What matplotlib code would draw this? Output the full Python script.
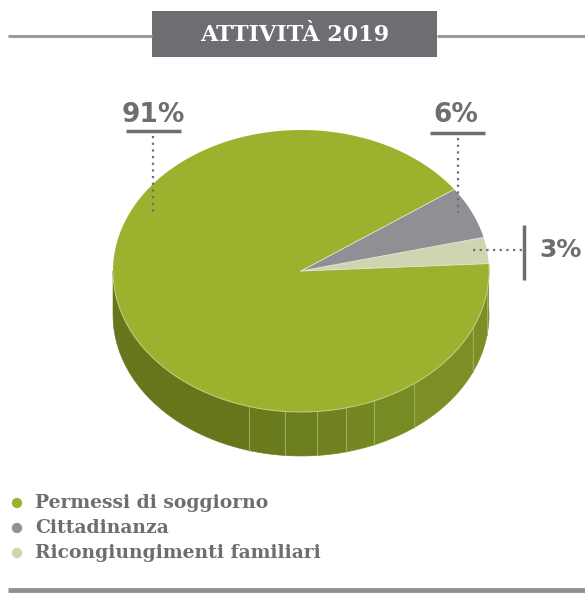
import numpy as np
import matplotlib.pyplot as plt
from matplotlib.colors import to_rgb
from matplotlib.patches import Polygon, Rectangle

# data
categories = ['Permessi di soggiorno', 'Cittadinanza', 'Ricongiungimenti familiari']
values = [91, 6, 3]
labels = ['91%', '6%', '3%']
colors = ['#9cb22f', '#8f9093', '#d0d5b1']

title = 'ATTIVITÀ 2019'
grey = '#6d6e71'

fig = plt.figure(figsize=(5.85, 5.93), dpi=100)
ax = fig.add_axes([0, 0, 1, 1])
ax.set_xlim(0, 585)
ax.set_ylim(593, 0)
ax.axis('off')

# pie geometry (pixel space)
cx, cy = 301, 271
rx, ry = 188, 141
depth = 44

# slices drawn counter clockwise starting from the small slice
order = [2, 1, 0]
start = 3.0
angles = {}
a = start
for i in order:
    span = values[i] / sum(values) * 360
    angles[i] = (a, a + span)
    a += span


def arc(t0, t1, n=120, dy=0):
    t = np.radians(np.linspace(t0, t1, n))
    return np.column_stack([cx + rx * np.cos(t), cy - ry * np.sin(t) + dy])


# side wall: only the lower half shows, it belongs to the big slice
dark = np.array(to_rgb('#65771a'))
light = np.array(to_rgb('#7b8f25'))
band_edges = [180, 254, 265, 275, 284, 293, 307, 336, 352, 363]
for j in range(len(band_edges) - 1):
    s0, s1 = band_edges[j], band_edges[j + 1]
    f = 0 if j == 0 else min(1, (j) / 6)
    c = dark + (light - dark) * f
    top = arc(s0, s1, 40)
    bot = arc(s1, s0, 40, depth)
    ax.add_patch(Polygon(np.vstack([top, bot]), closed=True,
                         facecolor=c, edgecolor=c, lw=0.4))
    if j > 0:
        p = arc(s0, s0, 2)
        ax.plot([p[0, 0]] * 2, [p[0, 1], p[0, 1] + depth],
                color='#a9b56e', lw=0.6)

# top faces
for i in order:
    t0, t1 = angles[i]
    pts = np.vstack([[cx, cy], arc(t0, t1, 200)])
    ax.add_patch(Polygon(pts, closed=True, facecolor=colors[i],
                         edgecolor='none'))
ax.plot(*arc(180, 363, 200).T, color='#c4cc8a', lw=0.7)
for i in order:
    p = arc(angles[i][0], angles[i][0], 2)[0]
    ax.plot([cx, p[0]], [cy, p[1]], color='#e3e5d6', lw=0.6)

# title band
ax.plot([8, 152], [36, 36], color='#9a9b9d', lw=2.2, solid_capstyle='butt')
ax.plot([437, 585], [36, 36], color='#9a9b9d', lw=2.2, solid_capstyle='butt')
ax.add_patch(Rectangle((152, 11), 285, 46, facecolor=grey, edgecolor='none'))
ax.text(294.5, 35, title, color='white', fontsize=16, fontweight='bold',
        family='DejaVu Serif', ha='center', va='center')

# value labels
lab_kw = dict(color=grey, fontsize=19, fontweight='bold', family='DejaVu Sans',
              ha='center', va='baseline')
ax.text(153, 122, labels[0], **lab_kw)
ax.plot([126, 181], [131, 131], color=grey, lw=2.5, solid_capstyle='butt')
ax.plot([153, 153], [136, 213], color=grey, lw=1.6, ls=(0, (1, 2)))

ax.text(456, 122, labels[1], **lab_kw)
ax.plot([430, 485], [133, 133], color=grey, lw=2.5, solid_capstyle='butt')
ax.plot([458, 458], [138, 213], color=grey, lw=1.6, ls=(0, (1, 2)))

ax.text(582, 257, labels[2], color=grey, fontsize=18, fontweight='bold',
        family='DejaVu Sans', ha='right', va='baseline')
ax.plot([524, 524], [225, 280], color=grey, lw=2.5, solid_capstyle='butt')
ax.plot([473, 522], [250, 250], color=grey, lw=1.6, ls=(0, (1, 2)))

# legend
for k, (name, col) in enumerate(zip(categories, colors)):
    y = 503 + k * 25
    ax.scatter([17], [y], s=55, color=col, edgecolor='none')
    ax.text(35, y, name, color=grey, fontsize=13.5, fontweight='bold',
            family='DejaVu Serif', ha='left', va='center')

ax.plot([8, 585], [590, 590], color='#8f9093', lw=3.5, solid_capstyle='butt')

fig.savefig('out.png', dpi=100)
